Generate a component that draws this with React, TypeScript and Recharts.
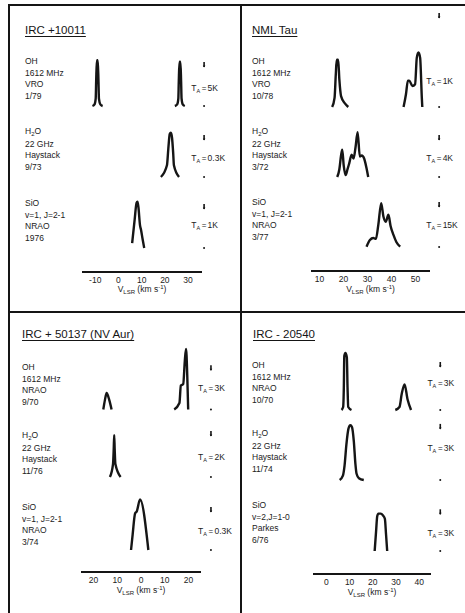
import React from 'react';
import { LineChart, Line, XAxis, YAxis, ReferenceDot } from 'recharts';

// ---------------- data: [V_LSR (km/s), T_A (K)], null = gap between features ----------------
const irc10011OH = [
  [-11.2, 0], [-10.3, 0.2], [-9.8, 0.9], [-9.6, 3.0], [-9.3, 5.6], [-8.9, 5.6], [-8.6, 3.0], [-8.4, 0.9], [-7.8, 0.2], [-6.8, 0],
  [10, null],
  [24.3, 0], [25.3, 0.2], [25.8, 0.9], [26.0, 3.0], [26.3, 5.4], [26.7, 5.4], [27.0, 3.0], [27.2, 0.9], [27.7, 0.2], [28.6, 0],
];
const irc10011H2O = [
  [18.3, 0], [20.9, 0.09], [21.5, 0.22], [22.1, 0.33], [22.6, 0.34], [23.1, 0.3], [23.6, 0.18], [23.9, 0.09], [26.1, 0],
];
const irc10011SiO = [
  [5.9, 0.12], [7.0, 0.7], [7.8, 1.1], [8.2, 1.13], [8.6, 1.0], [9.3, 0.55], [9.7, 0.45], [10.4, 0.22], [11.1, 0],
];

const nmlTauOH = [
  [15.3, 0], [16.3, 0.1], [16.8, 0.35], [17.2, 0.52], [17.8, 0.52], [18.3, 0.3], [19.0, 0.12], [20.6, 0.04], [22.0, 0],
  [33, null],
  [45.0, 0], [46.0, 0.14], [46.8, 0.29], [47.4, 0.29], [48.7, 0.23], [49.8, 0.25], [50.5, 0.54], [51.2, 0.6], [51.9, 0.54], [52.6, 0.1], [52.8, 0],
];
const nmlTauH2O = [
  [17.4, 0], [18.3, 0.8], [19.0, 2.2], [19.5, 2.8], [20.1, 1.2], [20.9, 0.2], [21.7, 0.8], [22.4, 1.4], [23.4, 2.3], [24.2, 1.9],
  [25.0, 3.0], [25.9, 4.6], [26.8, 2.1], [27.6, 2.2], [28.6, 1.9], [29.6, 0.9], [30.3, 0],
];
const nmlTauSiO = [
  [29.6, 0.1], [31.0, 2.5], [32.4, 3.2], [33.5, 2.9], [34.5, 7.9], [35.7, 15.6], [36.6, 11.0], [37.6, 9.0], [38.7, 11.5],
  [39.6, 7.5], [40.8, 4.3], [42.0, 1.8], [43.6, 0.1],
];

const irc50137OH = [
  [-15.9, 0], [-15.2, 0.7], [-14.5, 1.2], [-13.4, 0.7], [-12.4, 0],
  [0, null],
  [14.0, 0], [16.2, 0.47], [16.8, 1.74], [17.8, 1.85], [18.5, 3.6], [19.0, 4.4], [19.5, 2.5], [19.9, 0],
];
const irc50137H2O = [
  [-13.1, 0], [-11.8, 0.6], [-11.5, 1.3], [-11.3, 1.95], [-11.1, 1.3], [-10.8, 0.6], [-8.6, 0],
];
const irc50137SiO = [
  [-4.2, 0], [-3.5, 0.12], [-2.5, 0.275], [-1.8, 0.29], [-0.4, 0.38], [3.1, 0],
];

const irc20540OH = [
  [6.5, 0], [7.2, 0.2], [7.5, 1.5], [7.7, 3.6], [8.2, 3.8], [8.8, 3.5], [9.1, 1.5], [9.4, 0.2], [10.8, 0],
  [20, null],
  [29.7, 0], [31.5, 0.2], [32.5, 1.1], [33.7, 1.7], [35.0, 0.7], [36.5, 0],
];
const irc20540H2O = [
  [5.7, 0], [7.1, 0.25], [7.8, 0.8], [8.6, 2.0], [9.5, 2.9], [10.3, 3.1], [11.0, 3.0], [11.8, 2.2], [12.5, 0.9], [13.0, 0.35], [14.0, 0.1], [16.1, 0],
];
const irc20540SiO = [
  [20.8, 0], [21.4, 1.5], [21.9, 2.7], [22.4, 2.9], [23.4, 2.9], [24.4, 2.75], [25.2, 2.5], [25.7, 1.3], [26.2, 0],
];

// tick labels (km/s)
const ticksIrc10011 = [-10, 0, 10, 20, 30];
const ticksNmlTau = [10, 20, 30, 40, 50];
const ticksIrc50137 = [-20, -10, 0, 10, 20];
const ticksIrc20540 = [0, 10, 20, 30, 40];

// intensity scale bars (K) and their labels
const scalesIrc10011 = [5, 0.3, 1];
const scalesNmlTau = [1, 4, 15];
const scalesIrc50137 = [3, 2, 0.3];
const scalesIrc20540 = [3, 3, 3];

// observation text labels
const labelsIrc10011 = [['OH', '1612 MHz', 'VRO', '1/79'], ['H2O', '22 GHz', 'Haystack', '9/73'], ['SiO', 'v=1, J=2-1', 'NRAO', '1976']];
const labelsNmlTau = [['OH', '1612 MHz', 'VRO', '10/78'], ['H2O', '22 GHz', 'Haystack', '3/72'], ['SiO', 'v=1, J=2-1', 'NRAO', '3/77']];
const labelsIrc50137 = [['OH', '1612 MHz', 'NRAO', '9/70'], ['H2O', '22 GHz', 'Haystack', '11/76'], ['SiO', 'v=1, J=2-1', 'NRAO', '3/74']];
const labelsIrc20540 = [['OH', '1612 MHz', 'NRAO', '10/70'], ['H2O', '22 GHz', 'Haystack', '11/74'], ['SiO', 'v=2,J=1-0', 'Parkes', '6/76']];

// ---------------- layout ----------------
const FONT = '"Liberation Sans", Arial, sans-serif';
const INK = '#151515';

const panels = [
  {
    title: 'IRC +10011', titleX: 25, titleY: 23, labelX: 25,
    axis: { left: 82, right: 202, y: 272, domain: [-15.7, 36], ticks: ticksIrc10011, abs: false, titleY: 283 },
    vBar: 36.9,
    rows: [
      { data: irc10011OH, scale: scalesIrc10011[0], baseline: 106, pxPerK: 8.2, labelTop: 56, frac: 0.44, labels: labelsIrc10011[0] },
      { data: irc10011H2O, scale: scalesIrc10011[1], baseline: 177, pxPerK: 130, labelTop: 126, frac: 0.49, labels: labelsIrc10011[1] },
      { data: irc10011SiO, scale: scalesIrc10011[2], baseline: 248, pxPerK: 41, labelTop: 198, frac: 0.56, labels: labelsIrc10011[2] },
    ],
  },
  {
    title: 'NML Tau', titleX: 252, titleY: 23, labelX: 252,
    axis: { left: 311, right: 430, y: 271, domain: [6.5, 56], ticks: ticksNmlTau, abs: false, titleY: 283 },
    vBar: 59.8,
    rows: [
      { data: nmlTauOH, scale: scalesNmlTau[0], baseline: 106.5, pxPerK: 91, labelTop: 56, frac: 0.29, labels: labelsNmlTau[0] },
      { data: nmlTauH2O, scale: scalesNmlTau[1], baseline: 177, pxPerK: 9.75, labelTop: 126, frac: 0.49, labels: labelsNmlTau[1] },
      { data: nmlTauSiO, scale: scalesNmlTau[2], baseline: 247, pxPerK: 2.8, labelTop: 197, frac: 0.52, labels: labelsNmlTau[2] },
    ],
  },
  {
    title: 'IRC + 50137 (NV Aur)', titleX: 22, titleY: 327, labelX: 22,
    axis: { left: 81, right: 201, y: 572, domain: [-25.3, 25.3], ticks: ticksIrc50137, abs: true, titleY: 584 },
    vBar: 29.5,
    rows: [
      { data: irc50137OH, scale: scalesIrc50137[0], baseline: 409, pxPerK: 15.7, labelTop: 362, frac: 0.51, labels: labelsIrc50137[0] },
      { data: irc50137H2O, scale: scalesIrc50137[1], baseline: 477, pxPerK: 21.5, labelTop: 430, frac: 0.47, labels: labelsIrc50137[1] },
      { data: irc50137SiO, scale: scalesIrc50137[2], baseline: 550, pxPerK: 133, labelTop: 502, frac: 0.48, labels: labelsIrc50137[2] },
    ],
  },
  {
    title: 'IRC - 20540', titleX: 253, titleY: 327, labelX: 252,
    axis: { left: 313, right: 431, y: 574, domain: [-5.8, 45.1], ticks: ticksIrc20540, abs: false, titleY: 586 },
    vBar: 49.1,
    rows: [
      { data: irc20540OH, scale: scalesIrc20540[0], baseline: 410, pxPerK: 15, labelTop: 360, frac: 0.6, labels: labelsIrc20540[0] },
      { data: irc20540H2O, scale: scalesIrc20540[1], baseline: 480, pxPerK: 17.7, labelTop: 428, frac: 0.6, labels: labelsIrc20540[1] },
      { data: irc20540SiO, scale: scalesIrc20540[2], baseline: 551, pxPerK: 12.9, labelTop: 500, frac: 0.47, labels: labelsIrc20540[2] },
    ],
  },
];

const fmtK = (k: number) => `${k}K`;

const TopTick = (p: any) => (
  <g>
    <line x1={p.cx} y1={p.cy - 3} x2={p.cx} y2={p.cy + 2} stroke={INK} strokeWidth={1.6} />
    <path d={`M${p.cx - 1.3},${p.cy + 0.5} L${p.cx + 1.3},${p.cy + 0.5} L${p.cx},${p.cy + 2.5} Z`} fill={INK} />
  </g>
);
const BottomDot = (p: any) => <circle cx={p.cx} cy={p.cy} r={1} fill={INK} />;

const makeScaleLabel = (text: string) => (p: any) => (
  <g fontFamily={FONT} fill="#222">
    <text x={p.cx - 4} y={p.cy + 3} textAnchor="end" fontSize={8.5}>
      T<tspan fontSize={5.5} dy={2}>A</tspan>
    </text>
    <text x={p.cx} y={p.cy + 3} textAnchor="middle" fontSize={8}>=</text>
    <text x={p.cx + 3.5} y={p.cy + 3} textAnchor="start" fontSize={8.5}>{text}</text>
  </g>
);

const LabelLine = ({ text }: { text: string }) => {
  if (text === 'H2O') {
    return (
      <div style={{ whiteSpace: 'nowrap' }}>
        H<span style={{ fontSize: 6, position: 'relative', top: 2 }}>2</span>O
      </div>
    );
  }
  return <div style={{ whiteSpace: 'nowrap' }}>{text}</div>;
};

function SpectrumRow({ panel, row, isLast }: any) {
  const H = 60;
  const below = isLast ? panel.axis.y - row.baseline : 4;
  const axisH = isLast ? 30 : 0;
  const plotW = panel.axis.right - panel.axis.left;
  const rightM = 50;
  const data = row.data.map((d: (number | null)[]) => ({ v: d[0], t: d[1] }));
  const yDomain = [-below / row.pxPerK, H / row.pxPerK];
  return (
    <div style={{ position: 'absolute', left: panel.axis.left, top: row.baseline - H }}>
      <LineChart
        width={plotW + rightM}
        height={H + below + axisH}
        data={data}
        margin={{ top: 0, right: rightM, bottom: 0, left: 0 }}
      >
        <XAxis
          type="number"
          dataKey="v"
          domain={panel.axis.domain}
          ticks={panel.axis.ticks}
          hide={!isLast}
          height={axisH || 30}
          axisLine={{ stroke: INK, strokeWidth: 2 }}
          tickLine={false}
          tickSize={3}
          tickMargin={2}
          interval={0}
          tick={{ fontSize: 8.5, fill: '#222', fontFamily: FONT }}
          tickFormatter={(v: number) => String(panel.axis.abs ? Math.abs(v) : v)}
        />
        <YAxis type="number" domain={yDomain} hide />
        <Line
          type="monotone"
          dataKey="t"
          stroke={INK}
          strokeWidth={2.4}
          dot={false}
          activeDot={false}
          connectNulls={false}
          isAnimationActive={false}
        />
        <ReferenceDot x={panel.vBar} y={row.scale} ifOverflow="visible" shape={TopTick} />
        <ReferenceDot x={panel.vBar} y={0} ifOverflow="visible" shape={BottomDot} />
        <ReferenceDot
          x={panel.vBar}
          y={row.scale * row.frac}
          ifOverflow="visible"
          shape={makeScaleLabel(fmtK(row.scale))}
        />
      </LineChart>
    </div>
  );
}

function Panel({ panel }: any) {
  const cx = (panel.axis.left + panel.axis.right) / 2;
  return (
    <>
      <div
        style={{
          position: 'absolute', left: panel.titleX, top: panel.titleY, fontSize: 11.5, lineHeight: '14px',
          color: INK, textDecoration: 'underline', textUnderlineOffset: 2, whiteSpace: 'nowrap',
        }}
      >
        {panel.title}
      </div>
      {panel.rows.map((row: any, i: number) => (
        <div
          key={'l' + i}
          style={{ position: 'absolute', left: panel.labelX, top: row.labelTop, fontSize: 8.5, lineHeight: '11.5px', color: '#222' }}
        >
          {row.labels.map((t: string, j: number) => <LabelLine key={j} text={t} />)}
        </div>
      ))}
      {panel.rows.map((row: any, i: number) => (
        <SpectrumRow key={'r' + i} panel={panel} row={row} isLast={i === panel.rows.length - 1} />
      ))}
      <div
        style={{
          position: 'absolute', left: cx - 50, width: 100, top: panel.axis.titleY, textAlign: 'center',
          fontSize: 8.5, lineHeight: '12px', color: '#222', whiteSpace: 'nowrap',
        }}
      >
        V<span style={{ fontSize: 6, position: 'relative', top: 2 }}>LSR</span>
        {'  (km s'}
        <span style={{ fontSize: 6, position: 'relative', top: -3 }}>-1</span>)
      </div>
    </>
  );
}

export default function App() {
  const border = (l: number, t: number, w: number, h: number, k: string) => (
    <div key={k} style={{ position: 'absolute', left: l, top: t, width: w, height: h, background: INK }} />
  );
  return (
    <div
      style={{
        position: 'absolute', left: 0, top: 0, width: 465, height: 613, background: '#fff',
        fontFamily: FONT, overflow: 'hidden',
      }}
    >
      <style>{'.recharts-surface{overflow:visible}'}</style>
      {border(8, 4, 457, 2, 'top')}
      {border(8, 4, 2, 609, 'left')}
      {border(240, 4, 2, 609, 'mid')}
      {border(8, 311, 457, 2, 'hmid')}
      {panels.map((p, i) => <Panel key={i} panel={p} />)}
    </div>
  );
}
